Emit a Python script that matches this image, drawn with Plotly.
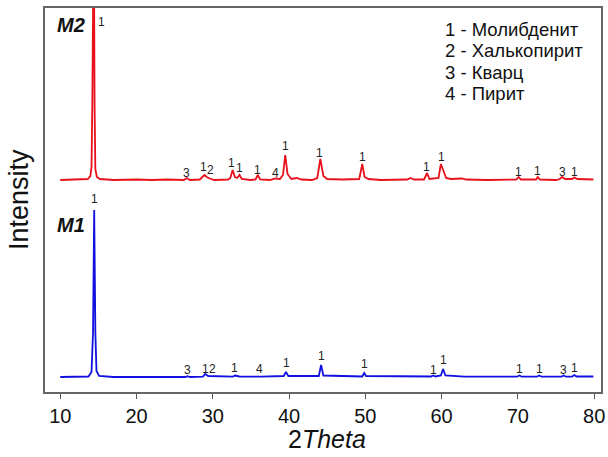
import plotly.graph_objects as go

# ---- data (intensity in arbitrary units, background ~15) ----
m2_two_theta = [10.0, 12.0, 13.6, 13.95, 14.1, 14.2, 14.3, 14.4, 14.5, 14.6, 14.8, 15.2, 17.0, 20.0, 22.0,
                24.0, 26.2, 26.6, 27.0, 28.3, 28.9, 29.2, 29.6, 30.2, 32.0, 32.3, 32.6, 32.9, 33.2, 33.5,
                33.8, 35.0, 35.6, 35.9, 36.2, 37.5, 38.2, 38.8, 39.2, 39.5, 39.8, 40.3, 41.0, 41.6, 43.0,
                43.7, 44.1, 44.5, 45.0, 47.0, 49.2, 49.6, 49.9, 50.4, 52.0, 54.0, 55.5, 55.9, 56.4, 57.7,
                58.1, 58.4, 59.6, 59.9, 60.2, 60.6, 61.2, 62.7, 63.2, 66.0, 69.8, 70.1, 70.4, 72.4, 72.6,
                72.9, 75.0, 75.5, 75.8, 76.2, 77.1, 77.4, 77.8, 79.9]
m2_intensity = [15, 15.5, 16, 19, 28, 90, 280, 280, 90, 26, 18, 16, 15, 15.5, 15,
                15.5, 15, 17, 15, 15.5, 20, 18, 16.5, 15, 15.5, 17, 25, 18, 17, 20,
                16, 15, 15.5, 20, 15.5, 15, 16.5, 16, 20, 40, 21, 16, 17, 15.5, 15,
                17, 36, 19, 16, 15.5, 16, 31, 18, 16, 15, 15.5, 15.5, 17, 15.5, 15.5,
                22, 16, 17, 31, 24, 17, 16, 16.5, 15.5, 15, 15.5, 18, 15.5, 15.5, 18,
                15.5, 15, 16, 18, 16, 16, 17.5, 16, 15.5]

m1_two_theta = [10.0, 13.7, 14.1, 14.3, 14.45, 14.6, 14.75, 15.1, 17.0, 20.5, 21.0, 26.4, 26.7, 27.0,
                28.7, 29.0, 29.4, 32.6, 32.9, 33.5, 35.8, 36.1, 36.4, 39.3, 39.6, 39.9, 43.9, 44.2, 44.5,
                49.6, 49.85, 50.1, 56.0, 58.6, 58.9, 59.2, 59.9, 60.2, 60.5, 62.7, 63.0, 69.9, 70.2,
                70.5, 72.5, 72.8, 73.1, 75.7, 76.0, 76.3, 77.1, 77.4, 77.7, 79.9]
m1_intensity = [15, 15.5, 20, 60, 182, 60, 21, 16, 15, 15.5, 15, 15, 15.8, 15,
                15.3, 18, 16, 15.3, 16.5, 15.5, 15.3, 16, 15.3, 16, 20, 16, 16, 27, 16.5,
                15.5, 19, 16, 15.5, 15.5, 16.5, 15.5, 16.5, 23, 16.5, 16, 15.3, 15.3, 16.5,
                15.3, 15.3, 16.5, 15.3, 15.3, 16.5, 15.3, 15.3, 17, 15.5, 15.5]

m2_offset = 197

# peak labels (phase number) : position and label height in plot units
m2_label_x = [15.46, 26.6, 28.75, 29.66, 32.5, 33.5, 35.9, 38.2, 39.5, 44.0, 49.6, 58.0, 60.0, 70.1, 72.6, 75.8, 77.4]
m2_label_y = [370, 219, 225, 222, 229, 224, 222, 219, 246, 239, 235, 225, 235, 220, 221, 220, 220]
m2_label_t = ["1", "3", "1", "2", "1", "1", "1", "4", "1", "1", "1", "1", "1", "1", "1", "3", "1"]

m1_label_x = [14.45, 26.7, 29.0, 29.9, 32.85, 36.1, 39.6, 44.2, 49.85, 58.9, 60.2, 70.2, 72.8, 76.0, 77.4]
m1_label_y = [193, 22, 23, 23, 24, 23, 29, 36, 28, 22, 32, 23, 23, 22, 24]
m1_label_t = ["1", "3", "1", "2", "1", "4", "1", "1", "1", "1", "1", "1", "1", "3", "1"]

phase_legend = ["1 - Молибденит", "2 - Халькопирит", "3 - Кварц", "4 - Пирит"]

x_ticks = [10, 20, 30, 40, 50, 60, 70, 80]

FONT = "Liberation Sans, Arial, sans-serif"

fig = go.Figure()
fig.add_trace(go.Scatter(x=m2_two_theta, y=[v + m2_offset for v in m2_intensity], mode="lines",
                         line=dict(color="#e8101a", width=1.8), name="M2"))
fig.add_trace(go.Scatter(x=m1_two_theta, y=m1_intensity, mode="lines",
                         line=dict(color="#1010e0", width=1.8), name="M1"))

ann = []
for x, y, t in zip(m2_label_x, m2_label_y, m2_label_t):
    ann.append(dict(x=x, y=y, text=t, showarrow=False, font=dict(size=12, color="#222", family=FONT)))
for x, y, t in zip(m1_label_x, m1_label_y, m1_label_t):
    ann.append(dict(x=x, y=y, text=t, showarrow=False, font=dict(size=12, color="#222", family=FONT)))

ann.append(dict(x=9.3, y=367, text="<b><i>M2</i></b>", showarrow=False, xanchor="left", yanchor="middle",
                font=dict(size=20, color="#111", family=FONT)))
ann.append(dict(x=9.3, y=167, text="<b><i>M1</i></b>", showarrow=False, xanchor="left", yanchor="middle",
                font=dict(size=20, color="#111", family=FONT)))

for i, t in enumerate(phase_legend):
    ann.append(dict(x=60.2, y=363 - i * 21.5, text=t, showarrow=False, xanchor="left", yanchor="middle",
                    font=dict(size=18.5, color="#111", family=FONT)))

ann.append(dict(xref="paper", yref="paper", x=(327 - 45) / 556, y=(392 - 439) / 384,
                xanchor="center", yanchor="middle",
                text="2<i>Theta</i>", showarrow=False, font=dict(size=25, color="#111", family=FONT)))
ann.append(dict(xref="paper", yref="paper", x=(19 - 45) / 556, y=0.5, textangle=-90,
                xanchor="center", yanchor="middle",
                text="Intensity", showarrow=False, font=dict(size=27, color="#111", family=FONT)))

fig.update_layout(
    width=608, height=457,
    margin=dict(l=45, r=7, t=8, b=65, autoexpand=False),
    paper_bgcolor="white", plot_bgcolor="white",
    showlegend=False,
    annotations=ann,
    xaxis=dict(range=[8.0, 80.9], tickmode="array", tickvals=x_ticks, ticks="outside", ticklen=5,
               tickcolor="#555", tickwidth=1.3, showline=True, mirror=True, linecolor="#666",
               linewidth=1.5, showgrid=False, zeroline=False, automargin=False,
               tickfont=dict(size=20, color="#111", family=FONT)),
    yaxis=dict(range=[0, 384], showticklabels=False, ticks="", showline=True, mirror=True,
               linecolor="#666", linewidth=1.5, showgrid=False, zeroline=False, automargin=False),
)

fig.write_html("out.html", config={"displayModeBar": False},
               post_script="document.body.style.margin='0';document.body.style.overflow='hidden';")
